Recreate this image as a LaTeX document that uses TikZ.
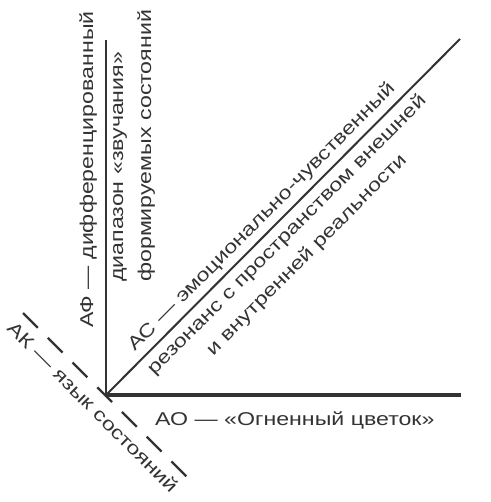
\documentclass[tikz,border=0pt]{standalone}
\usepackage{fontspec}
\newfontfamily\axisfont{Liberation Sans}[FakeStretch=1.25]
\usepackage{tikz}
\usetikzlibrary{positioning}
\definecolor{inkgray}{HTML}{333333}
\tikzset{
  axislabel/.style={font=\axisfont\fontsize{18.6}{28}\selectfont, text=inkgray, inner sep=0pt},
}

\begin{document}
\begin{tikzpicture}[x=1bp,y=1bp]
\useasboundingbox (0,0) rectangle (491,-502);
% Define the end points of the axes
\def\dashlen{21bp}
\coordinate (O) at (106,-395);
\coordinate (F) at (106,-40);
\coordinate (R) at (461,-395);
\coordinate (S) at (460,-39);
\coordinate (K1) at (23,-313);
\coordinate (K2) at (187,-477);

% Draw the axes
\draw[inkgray, line width=2.7bp] (O) -- (F);
\draw[inkgray, line width=3.3bp] (104.7,-395) -- (R);
\draw[inkgray, line width=2bp] (O) -- (S)
  node[axislabel, pos=0.47, sloped, above=5bp] (ac) {АС — эмоционально-чувственный}
  node[axislabel, pos=0.48, sloped, below=6bp, align=center] (res) {резонанс с пространством внешней\\и внутренней реальности};
\draw[inkgray, line width=2.2bp, dash pattern=on \dashlen off 14bp] (K1) -- (K2)
  node[axislabel, midway, sloped, below=9bp] (ak) {АК — язык состояний};

% Labels of the two straight axes
\node[axislabel, anchor=base west] (ao) at (155,-425) {АО — «Огненный цветок»};
\node[axislabel, rotate=90, anchor=base west] (af) at (93,-328) {АФ — дифференцированный};
\node[axislabel, rotate=90, anchor=north west, align=left] (range) at (113,-282) {диапазон «звучания»\\формируемых состояний};
\end{tikzpicture}
\end{document}
